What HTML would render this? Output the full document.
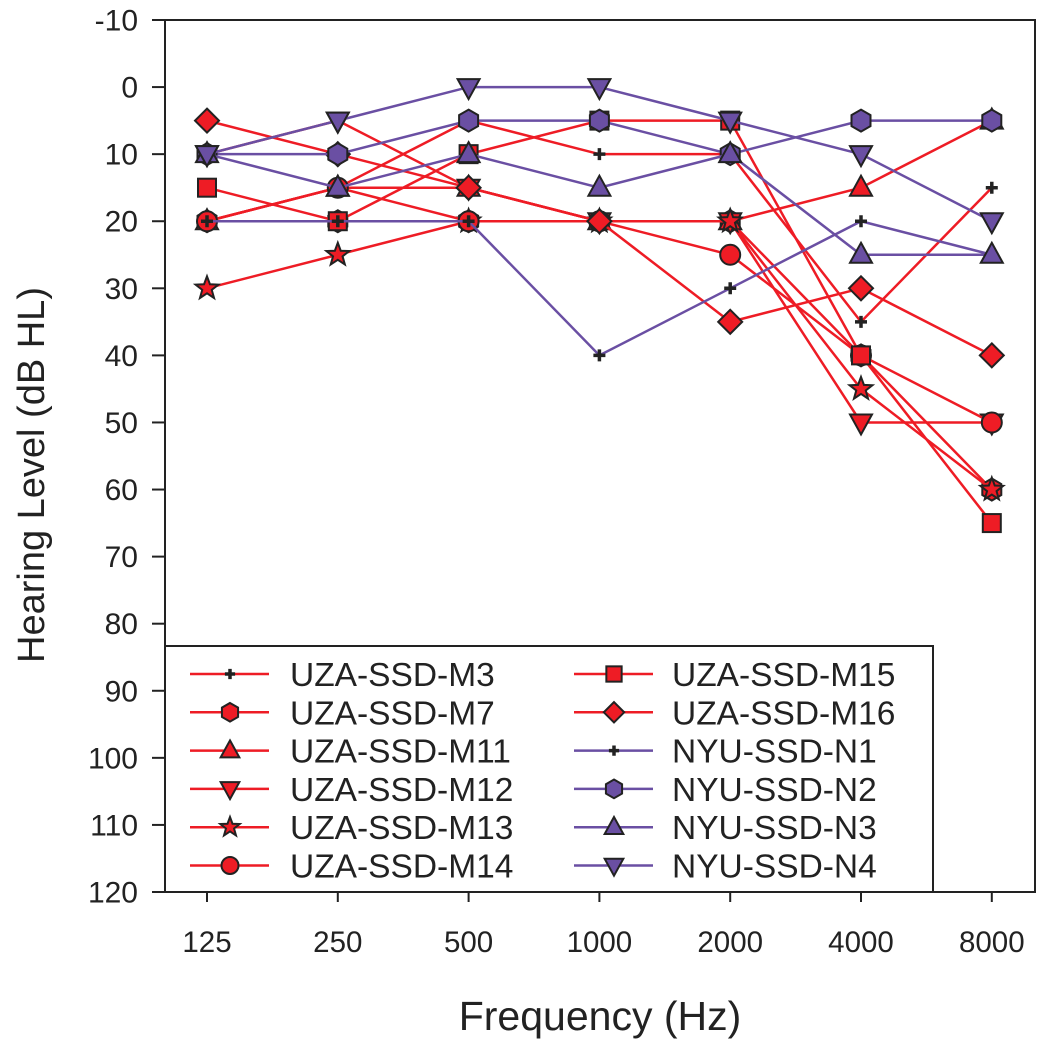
<!DOCTYPE html>
<html><head><meta charset="utf-8"><style>
body{margin:0;background:#fff}
svg text{font-family:"Liberation Sans",Arial,sans-serif;fill:#222}
</style></head><body>
<svg id="c" width="1046" height="1050" viewBox="0 0 1046 1050" xmlns="http://www.w3.org/2000/svg"></svg>
<script>
const freqs=["125","250","500","1000","2000","4000","8000"];
const yTicks=[-10,0,10,20,30,40,50,60,70,80,90,100,110,120];
const names=["UZA-SSD-M3","UZA-SSD-M7","UZA-SSD-M11","UZA-SSD-M12","UZA-SSD-M13","UZA-SSD-M14","UZA-SSD-M15","UZA-SSD-M16","NYU-SSD-N1","NYU-SSD-N2","NYU-SSD-N3","NYU-SSD-N4"];
const M3=[20,15,5,10,10,35,15];
const M7=[20,20,20,20,20,40,60];
const M11=[20,15,15,20,20,15,5];
const M12=[10,5,15,20,20,50,50];
const M13=[30,25,20,20,20,45,60];
const M14=[20,15,20,20,25,40,50];
const M15=[15,20,10,5,5,40,65];
const M16=[5,10,15,20,35,30,40];
const N1=[20,20,20,40,30,20,25];
const N2=[10,10,5,5,10,5,5];
const N3=[10,15,10,15,10,25,25];
const N4=[10,5,0,0,5,10,20];
const seriesVals=[M3,M7,M11,M12,M13,M14,M15,M16,N1,N2,N3,N4];
const markers=["plus","hex","tri","dtri","star","circle","square","diamond","plus","hex","tri","dtri"];
const RED="#ee1c25",PUR="#6a4fa3";
const colors=names.map(n=>n.startsWith("UZA")?RED:PUR);

const svg=document.getElementById('c');const NS="http://www.w3.org/2000/svg";
function mk(t,a,p){const e=document.createElementNS(NS,t);for(const k in a)e.setAttribute(k,a[k]);(p||svg).appendChild(e);return e;}
const L=165,R=1035,T=20,B=892;
const y=v=>T+(v+10)/130*(B-T);
const x=i=>207+i*130.8;

const frame=mk('rect',{x:L,y:T,width:R-L,height:B-T,fill:'none',stroke:'#222','stroke-width':2});


yTicks.forEach(v=>{
  const l=mk('line',{x1:L-13,x2:L,y1:y(v),y2:y(v),stroke:'#222','stroke-width':2});
  
  
  const t=mk('text',{x:L-27,y:y(v)+10.5,'text-anchor':'end','font-size':30});t.textContent=v;
  
  
});
freqs.forEach((f,i)=>{
  const l=mk('line',{x1:x(i),x2:x(i),y1:B,y2:B+10,stroke:'#222','stroke-width':2});
  
  
  const t=mk('text',{x:x(i),y:B+60,'text-anchor':'middle','font-size':29.5});t.textContent=f;
  
  
});
const xt=mk('text',{x:600,y:1030,'text-anchor':'middle','font-size':41});xt.textContent="Frequency (Hz)";


const yt=mk('text',{x:0,y:0,'text-anchor':'middle','font-size':38,transform:'translate(44,475) rotate(-90)'});yt.textContent="Hearing Level (dB HL)";



function marker(type,cx,cy,fill,p,s){
  s=s||1;let e;const st={fill:fill,stroke:'#222','stroke-width':2};
  const pts=a=>a.map(q=>(cx+q[0]*s)+','+(cy+q[1]*s)).join(' ');
  if(type=="plus"){e=mk('path',{d:`M${cx-6*s},${cy}H${cx+6*s}M${cx},${cy-6*s}V${cy+6*s}`,stroke:'#222','stroke-width':3.5,fill:'none'},p);}
  else if(type=="circle")e=mk('circle',Object.assign({cx:cx,cy:cy,r:10*s},st),p);
  else if(type=="square")e=mk('rect',Object.assign({x:cx-9*s,y:cy-9*s,width:18*s,height:18*s},st),p);
  else if(type=="diamond")e=mk('polygon',Object.assign({points:pts([[0,-12],[12,0],[0,12],[-12,0]])},st),p);
  else if(type=="tri")e=mk('polygon',Object.assign({points:pts([[0,-12],[11,8],[-11,8]])},st),p);
  else if(type=="dtri")e=mk('polygon',Object.assign({points:pts([[0,12],[11,-8],[-11,-8]])},st),p);
  else if(type=="hex")e=mk('polygon',Object.assign({points:pts([[0,-11],[9.5,-5.5],[9.5,5.5],[0,11],[-9.5,5.5],[-9.5,-5.5]])},st),p);
  else if(type=="star"){const a=[];for(let k=0;k<10;k++){const r=k%2?5:12,an=-Math.PI/2+k*Math.PI/5;a.push([r*Math.cos(an),r*Math.sin(an)]);}e=mk('polygon',Object.assign({points:pts(a)},st),p);}
  return e;
}
seriesVals.forEach((vals,si)=>{
  const g=mk('g',{});
  
  
  const pl=mk('polyline',{points:vals.map((v,i)=>x(i)+','+y(v)).join(' '),fill:'none',stroke:colors[si],'stroke-width':2.5},g);
  
  
  vals.forEach((v,i)=>{const m=marker(markers[si],x(i),y(v),colors[si],g);
    
    });
});
// legend
const lg=mk('g',{});


mk('rect',{x:L,y:646,width:768,height:B-646,fill:'#fff',stroke:'#222','stroke-width':2},lg);
names.forEach((n,i)=>{
  const col=i<6?0:1,row=i%6;
  const lx=col?574:190,ty=674+row*38.3;
  const e=mk('g',{},lg);
  
  
  mk('line',{x1:lx,x2:lx+79,y1:ty,y2:ty,stroke:colors[i],'stroke-width':2.5},e);
  marker(markers[i],lx+40,ty,colors[i],e,0.85);
  const t=mk('text',{x:lx+(col?98:100),y:ty+12,'font-size':33.5},e);t.textContent=n;
});
</script>
</body></html>
